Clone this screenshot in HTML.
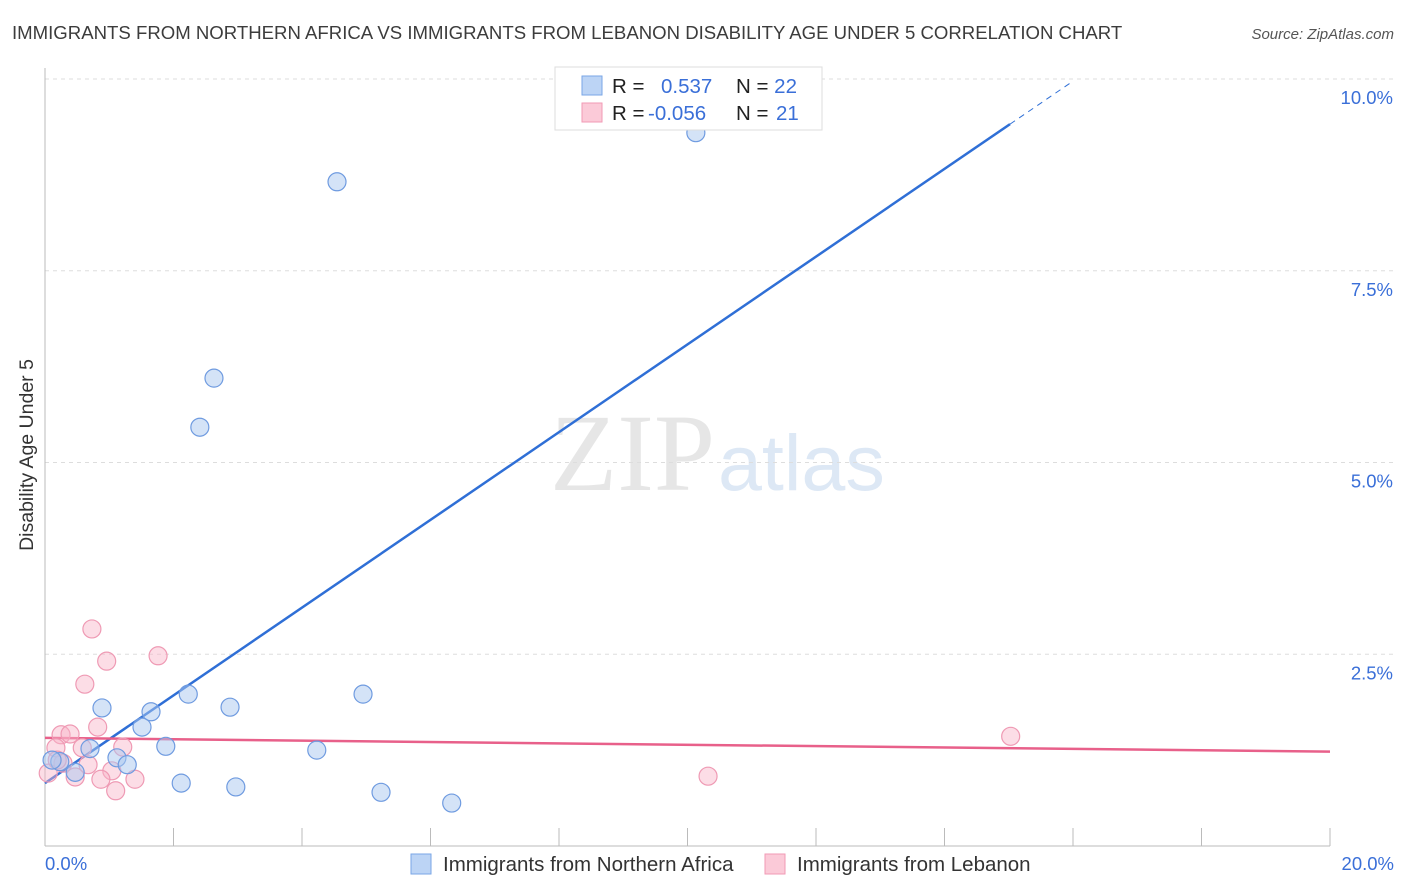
<!DOCTYPE html>
<html><head><meta charset="utf-8"><style>
body{margin:0;background:#fff;font-family:"Liberation Sans",sans-serif;}
svg{display:block}
</style></head><body>
<svg id="chart" width="1406" height="892">
<text x="12" y="39" font-size="18.6" fill="#3c3c3c">IMMIGRANTS FROM NORTHERN AFRICA VS IMMIGRANTS FROM LEBANON DISABILITY AGE UNDER 5 CORRELATION CHART</text>
<text x="1394" y="39" font-size="15" font-style="italic" fill="#555" text-anchor="end">Source: ZipAtlas.com</text>
<text x="715" y="490" font-size="110" font-family="Liberation Serif,serif" fill="#e6e6e6" text-anchor="end">ZIP</text>
<text x="718" y="490" font-size="79" fill="#dde8f5">atlas</text>
<text transform="translate(33,455) rotate(-90)" font-size="19.5" fill="#333" text-anchor="middle">Disability Age Under 5</text>
<g id="grid"></g><g id="axes"></g><g id="lines"></g><g id="pts"></g>
<g>
<rect x="555" y="67" width="267" height="63" fill="#fff" stroke="#ddd"/>
<rect x="582" y="76" width="20" height="19" fill="#bcd4f5" stroke="#7aa6e6"/>
<rect x="582" y="103" width="20" height="19" fill="#fbcad8" stroke="#f29ab5"/>
<text x="612" y="93" font-size="20.5" fill="#222">R = <tspan fill="#3a6fd8" x="661">0.537</tspan><tspan x="736" fill="#222">N = </tspan><tspan fill="#3a6fd8">22</tspan></text>
<text x="612" y="120" font-size="20.5" fill="#222">R = <tspan fill="#3a6fd8" x="648">-0.056</tspan><tspan x="736" fill="#222">N = </tspan><tspan fill="#3a6fd8" x="776">21</tspan></text>
</g>
<g>
<rect x="411" y="854" width="20" height="20" fill="#bcd4f5" stroke="#7aa6e6"/>
<text x="443" y="871" font-size="20.5" fill="#333">Immigrants from Northern Africa</text>
<rect x="765" y="854" width="20" height="20" fill="#fbcad8" stroke="#f29ab5"/>
<text x="797" y="871" font-size="20.5" fill="#333">Immigrants from Lebanon</text>
</g>
</svg>
<script>
const yTicks=[2.5,5.0,7.5,10.0];
const xTickVals=[0,2,4,6,8,10,12,14,16,18,20];
const blueX=[4.545,10.13,2.63,2.41,0.887,1.65,2.23,2.88,4.95,1.51,1.88,0.70,1.12,1.28,0.23,0.11,0.47,2.12,2.97,4.23,5.23,6.33];
const blueY=[8.66,9.30,6.10,5.46,1.80,1.75,1.98,1.81,1.98,1.55,1.30,1.27,1.15,1.06,1.10,1.12,0.96,0.82,0.77,1.25,0.70,0.56];
const pinkX=[0.73,0.96,1.76,0.62,0.82,0.25,0.39,1.21,0.17,0.58,0.67,0.28,1.04,0.87,1.40,1.10,0.47,0.05,15.03,10.32,0.19];
const pinkY=[2.83,2.41,2.48,2.11,1.55,1.45,1.46,1.29,1.28,1.28,1.06,1.08,0.98,0.87,0.87,0.72,0.90,0.95,1.43,0.91,1.12];
const blueLine=[0.82,0.572];
const pinkLine=[1.41,-0.009];
const NS="http://www.w3.org/2000/svg";
const X=v=>45+v*64.25, Y=v=>846-v*76.7;
function mk(p,t,a){const e=document.createElementNS(NS,t);for(const k in a)e.setAttribute(k,a[k]);document.getElementById(p).appendChild(e);return e;}
yTicks.forEach(t=>{
 const g=mk('grid','line',{x1:45,x2:1394,y1:Y(t),y2:Y(t),stroke:'#ddd','stroke-dasharray':'4,4'});
 
 
 const l=mk('grid','text',{x:1393,y:Y(t)+25,'text-anchor':'end','font-size':18.5,fill:'#3a6fd8'});
 l.textContent=t.toFixed(1)+'%';
 
 
});
mk('axes','line',{x1:45,x2:45,y1:68,y2:846,stroke:'#bbb'});
mk('axes','line',{x1:45,x2:1330,y1:846,y2:846,stroke:'#bbb'});
xTickVals.forEach(t=>{const k=mk('axes','line',{x1:X(t),x2:X(t),y1:828,y2:846,stroke:'#bbb'});
 
 });
[[0,'start','0.0%'],[20,'end','20.0%']].forEach(([v,a,s])=>{const t=mk('axes','text',{x:X(v)+(v?64:0),y:870,'text-anchor':a,'font-size':18.5,fill:'#3a6fd8'});t.textContent=s;
 
 });
function pts(xs,ys,fill,stroke,name){xs.forEach((x,i)=>{const c=mk('pts','circle',{cx:X(x),cy:Y(ys[i]),r:9,fill:fill,stroke:stroke,'stroke-width':1.2});
 
 });}
pts(pinkX,pinkY,'rgba(248,180,200,0.45)','#ef9ab4','point-lebanon');
pts(blueX,blueY,'rgba(170,200,240,0.5)','#6f9be0','point-northern-africa');
const b1=mk('lines','line',{x1:X(0),y1:Y(blueLine[0]),x2:X(15.02),y2:Y(blueLine[0]+blueLine[1]*15.02),stroke:'#2f6fd6','stroke-width':2.5});


const b2=mk('lines','line',{x1:X(15.02),y1:Y(blueLine[0]+blueLine[1]*15.02),x2:X(16),y2:Y(blueLine[0]+blueLine[1]*16),stroke:'#2f6fd6','stroke-width':1,'stroke-dasharray':'6,5'});


const p1=mk('lines','line',{x1:X(0),y1:Y(pinkLine[0]),x2:X(20),y2:Y(pinkLine[0]+pinkLine[1]*20),stroke:'#e8608a','stroke-width':2.5});


</script>
</body></html>
